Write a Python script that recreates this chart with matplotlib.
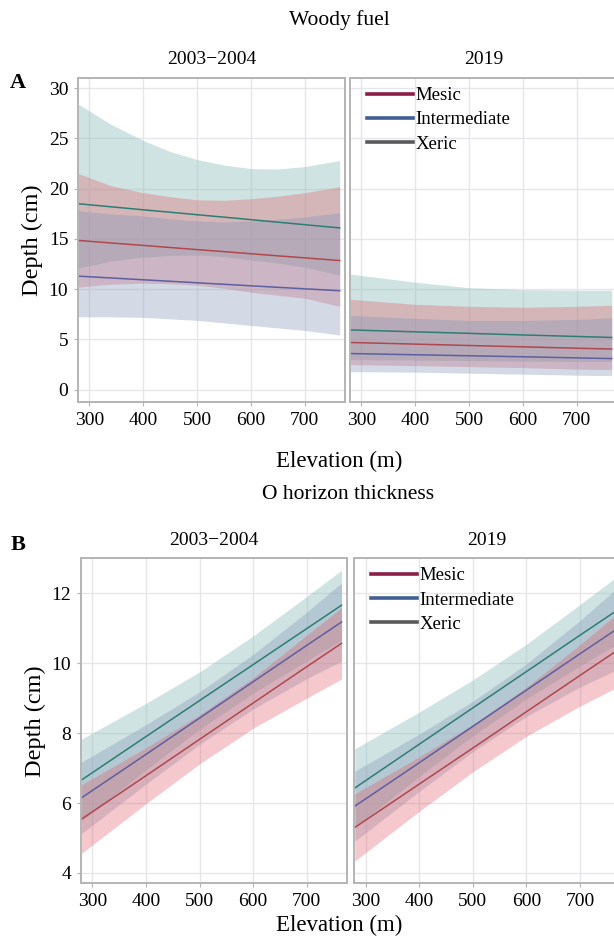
import matplotlib
matplotlib.use("Agg")
import matplotlib.pyplot as plt
from matplotlib.lines import Line2D

plt.rcParams['font.family'] = ['Liberation Serif', 'DejaVu Serif']

# ---------------- data ----------------
groups = ["Mesic", "Intermediate", "Xeric"]

# A: woody fuel depth (cm)
elev_a = [280, 340, 400, 450, 500, 550, 600, 650, 700, 765]
a_early_xeric_fit = [18.5, 18.2, 17.9, 17.66, 17.41, 17.17, 16.92, 16.67, 16.42, 16.1]
a_early_xeric_hi = [28.4, 26.4, 24.8, 23.7, 22.9, 22.35, 22.0, 21.95, 22.2, 22.8]
a_early_xeric_lo = [12.1, 12.8, 13.2, 13.35, 13.4, 13.25, 12.9, 12.6, 12.2, 11.4]
a_early_mesic_fit = [14.85, 14.6, 14.36, 14.15, 13.94, 13.74, 13.53, 13.32, 13.12, 12.85]
a_early_mesic_hi = [21.5, 20.3, 19.6, 19.2, 18.9, 18.85, 19.0, 19.25, 19.6, 20.2]
a_early_mesic_lo = [10.2, 10.5, 10.6, 10.55, 10.4, 10.1, 9.7, 9.4, 9.1, 8.3]
a_early_inter_fit = [11.3, 11.12, 10.94, 10.79, 10.64, 10.49, 10.34, 10.19, 10.04, 9.85]
a_early_inter_hi = [17.8, 17.5, 17.3, 17.0, 16.8, 16.7, 16.8, 16.95, 17.2, 17.6]
a_early_inter_lo = [7.25, 7.25, 7.2, 7.05, 6.9, 6.65, 6.4, 6.15, 5.9, 5.45]

elev = [280, 400, 500, 600, 700, 765]
a_late_xeric_fit = [5.95, 5.76, 5.61, 5.45, 5.30, 5.2]
a_late_xeric_hi = [11.5, 10.7, 10.15, 9.95, 9.9, 9.9]
a_late_xeric_lo = [3.0, 2.95, 2.9, 2.85, 2.8, 2.8]
a_late_mesic_fit = [4.7, 4.54, 4.4, 4.27, 4.13, 4.05]
a_late_mesic_hi = [9.0, 8.5, 8.3, 8.2, 8.3, 8.4]
a_late_mesic_lo = [2.5, 2.4, 2.3, 2.2, 2.05, 2.0]
a_late_inter_fit = [3.6, 3.48, 3.38, 3.28, 3.17, 3.1]
a_late_inter_hi = [7.4, 7.1, 6.9, 6.9, 7.0, 7.15]
a_late_inter_lo = [1.8, 1.75, 1.65, 1.55, 1.45, 1.4]

# B: O horizon thickness (cm)
b_early_xeric_fit = [6.66, 7.90, 8.93, 9.96, 10.99, 11.66]
b_early_xeric_hi = [7.83, 8.85, 9.75, 10.78, 11.91, 12.66]
b_early_xeric_lo = [5.49, 6.95, 8.11, 9.14, 10.07, 10.66]
b_early_inter_fit = [6.15, 7.39, 8.43, 9.47, 10.51, 11.18]
b_early_inter_hi = [7.17, 8.24, 9.18, 10.25, 11.46, 12.30]
b_early_inter_lo = [5.13, 6.54, 7.68, 8.69, 9.56, 10.06]
b_early_mesic_fit = [5.54, 6.78, 7.82, 8.86, 9.90, 10.57]
b_early_mesic_hi = [6.52, 7.58, 8.52, 9.58, 10.80, 11.59]
b_early_mesic_lo = [4.56, 5.98, 7.12, 8.14, 9.00, 9.55]

b_late_xeric_fit = [6.43, 7.68, 8.72, 9.76, 10.80, 11.47]
b_late_xeric_hi = [7.55, 8.60, 9.52, 10.54, 11.68, 12.43]
b_late_xeric_lo = [5.31, 6.76, 7.92, 8.98, 9.92, 10.51]
b_late_inter_fit = [5.91, 7.15, 8.19, 9.23, 10.27, 10.94]
b_late_inter_hi = [6.91, 7.97, 8.91, 9.98, 11.22, 12.09]
b_late_inter_lo = [4.91, 6.33, 7.47, 8.48, 9.32, 9.79]
b_late_mesic_fit = [5.30, 6.54, 7.57, 8.61, 9.65, 10.32]
b_late_mesic_hi = [6.26, 7.32, 8.25, 9.31, 10.53, 11.36]
b_late_mesic_lo = [4.34, 5.76, 6.89, 7.91, 8.77, 9.28]

# ---------------- styles ----------------
band_col = {"xeric": "#94c1bf", "mesic": "#e0626e", "inter": "#8296b8"}
band_alpha = {"xeric": 0.45, "mesic": 0.35, "inter": 0.35}
line_col = {"xeric": "#2e7d73", "mesic": "#b0474e", "inter": "#5e5fa0"}
legend_col = ["#8c1d45", "#3f5f95", "#5a5a5a"]
spine_col = "#b4b4b4"
grid_col = "#e6e6ea"


def draw_panel(ax, x, series, ylim, yticks, show_y):
    # series: list of (key, fit, lo, hi)
    for key, fit, lo, hi in series:
        ax.fill_between(x, lo, hi, color=band_col[key], alpha=band_alpha[key], lw=0)
    for key, fit, lo, hi in series:
        ax.plot(x, fit, color=line_col[key], lw=1.1)
    ax.set_xlim(279, 775)
    ax.set_ylim(*ylim)
    ax.set_xticks([300, 400, 500, 600, 700])
    ax.set_yticks(yticks)
    ax.grid(True, color=grid_col, lw=1.0)
    ax.set_axisbelow(True)
    for s in ax.spines.values():
        s.set_color(spine_col)
        s.set_linewidth(1.4)
    ax.tick_params(axis='both', labelsize=14, color=spine_col, length=3, pad=4)
    if not show_y:
        ax.tick_params(axis='y', length=0, labelleft=False)


def add_legend(ax):
    handles = [Line2D([0], [0], color=c, lw=2.6) for c in legend_col]
    ax.legend(handles, groups, loc='upper left', bbox_to_anchor=(0.02, 1.007),
              frameon=False, fontsize=13.5, handlelength=2.45, handletextpad=0.15,
              labelspacing=0.38, borderaxespad=0.4, borderpad=0.2)


fig = plt.figure(figsize=(6.14, 9.41), dpi=100)

# panel A
axA1 = fig.add_axes([0.127, 0.573, 0.435, 0.344])
axA2 = fig.add_axes([0.570, 0.573, 0.435, 0.344])
draw_panel(axA1, elev_a, [
    ("xeric", a_early_xeric_fit, a_early_xeric_lo, a_early_xeric_hi),
    ("mesic", a_early_mesic_fit, a_early_mesic_lo, a_early_mesic_hi),
    ("inter", a_early_inter_fit, a_early_inter_lo, a_early_inter_hi),
], (-1.2, 31), [0, 5, 10, 15, 20, 25, 30], True)
draw_panel(axA2, elev, [
    ("xeric", a_late_xeric_fit, a_late_xeric_lo, a_late_xeric_hi),
    ("mesic", a_late_mesic_fit, a_late_mesic_lo, a_late_mesic_hi),
    ("inter", a_late_inter_fit, a_late_inter_lo, a_late_inter_hi),
], (-1.2, 31), [0, 5, 10, 15, 20, 25, 30], False)
add_legend(axA2)
axA1.set_title("2003\u22122004", fontsize=14, pad=10)
axA2.set_title("2019", fontsize=14, pad=10)
axA1.set_ylabel("Depth (cm)", fontsize=17.5)

# panel B
axB1 = fig.add_axes([0.132, 0.0616, 0.433, 0.345])
axB2 = fig.add_axes([0.577, 0.0616, 0.433, 0.345])
draw_panel(axB1, elev, [
    ("xeric", b_early_xeric_fit, b_early_xeric_lo, b_early_xeric_hi),
    ("inter", b_early_inter_fit, b_early_inter_lo, b_early_inter_hi),
    ("mesic", b_early_mesic_fit, b_early_mesic_lo, b_early_mesic_hi),
], (3.71, 13.0), [4, 6, 8, 10, 12], True)
draw_panel(axB2, elev, [
    ("xeric", b_late_xeric_fit, b_late_xeric_lo, b_late_xeric_hi),
    ("inter", b_late_inter_fit, b_late_inter_lo, b_late_inter_hi),
    ("mesic", b_late_mesic_fit, b_late_mesic_lo, b_late_mesic_hi),
], (3.71, 13.0), [4, 6, 8, 10, 12], False)
add_legend(axB2)
axB1.set_title("2003\u22122004", fontsize=14, pad=10)
axB2.set_title("2019", fontsize=14, pad=10)
axB1.set_ylabel("Depth (cm)", fontsize=17.5)

# figure texts
fig.text(0.552, 0.979, "Woody fuel", ha='center', va='center', fontsize=15.5)
fig.text(0.552, 0.510, "Elevation (m)", ha='center', va='center', fontsize=16.5)
fig.text(0.567, 0.474, "O horizon thickness", ha='center', va='center', fontsize=15.5)
fig.text(0.552, 0.016, "Elevation (m)", ha='center', va='center', fontsize=16.5)
fig.text(0.016, 0.912, "A", fontsize=16, fontweight='bold', va='center')
fig.text(0.018, 0.421, "B", fontsize=16, fontweight='bold', va='center')

fig.savefig("out.png", dpi=100)
